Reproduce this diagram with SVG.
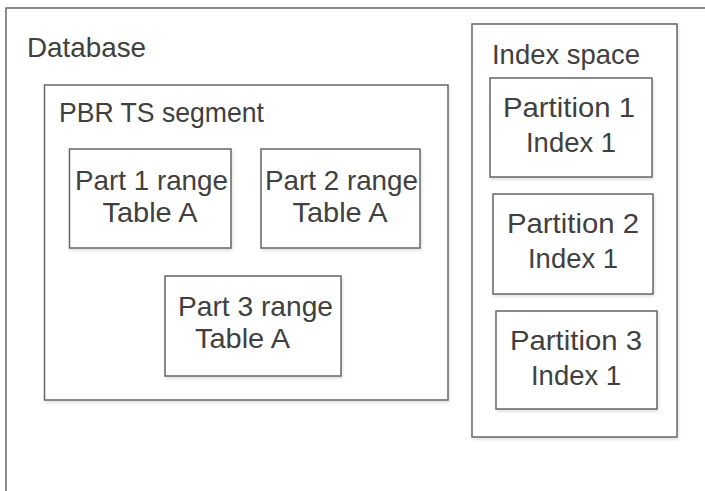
<svg xmlns="http://www.w3.org/2000/svg" width="705" height="491" viewBox="0 0 705 491">
<defs>
<filter id="sh" x="-5%" y="-5%" width="115%" height="115%">
<feDropShadow dx="1" dy="2" stdDeviation="1.5" flood-color="#000" flood-opacity="0.12"/>
</filter>
</defs>
<style>
.box{fill:#fff;stroke:#666;stroke-width:1.5;filter:url(#sh)}
.t{font-family:"Liberation Sans",Arial,sans-serif;font-size:28px;fill:#404040}
.c{text-anchor:middle}
</style>
<rect width="705" height="491" fill="#fff"/>
<g id="database">
<rect class="box" x="6" y="8" width="720" height="500"/>
<text class="t" x="27" y="57" textLength="119" lengthAdjust="spacingAndGlyphs">Database</text>
</g>
<g id="pbr-ts-segment">
<rect class="box" x="44.5" y="85" width="403.5" height="315"/>
<text class="t" x="59" y="122" textLength="205" lengthAdjust="spacingAndGlyphs">PBR TS segment</text>
</g>
<g id="part1">
<rect class="box" x="69.5" y="149" width="161.5" height="99"/>
<text class="t c" x="151.5" y="190" textLength="153" lengthAdjust="spacingAndGlyphs">Part 1 range</text>
<text class="t c" x="150" y="222" textLength="95" lengthAdjust="spacingAndGlyphs">Table A</text>
</g>
<g id="part2">
<rect class="box" x="261" y="149" width="159" height="99"/>
<text class="t c" x="341.5" y="190" textLength="153" lengthAdjust="spacingAndGlyphs">Part 2 range</text>
<text class="t c" x="340" y="222" textLength="95" lengthAdjust="spacingAndGlyphs">Table A</text>
</g>
<g id="part3">
<rect class="box" x="165" y="276" width="176" height="100"/>
<text class="t c" x="255.5" y="316" textLength="155" lengthAdjust="spacingAndGlyphs">Part 3 range</text>
<text class="t c" x="242.5" y="348" textLength="95" lengthAdjust="spacingAndGlyphs">Table A</text>
</g>
<g id="index-space">
<rect class="box" x="472" y="24" width="205" height="413"/>
<text class="t" x="492" y="64" textLength="148" lengthAdjust="spacingAndGlyphs">Index space</text>
</g>
<g id="partition1">
<rect class="box" x="490" y="78" width="162" height="99"/>
<text class="t c" x="569" y="117" textLength="132" lengthAdjust="spacingAndGlyphs">Partition 1</text>
<text class="t c" x="571" y="152" textLength="90" lengthAdjust="spacingAndGlyphs">Index 1</text>
</g>
<g id="partition2">
<rect class="box" x="493" y="194" width="160" height="100"/>
<text class="t c" x="573" y="233" textLength="132" lengthAdjust="spacingAndGlyphs">Partition 2</text>
<text class="t c" x="573" y="268" textLength="90" lengthAdjust="spacingAndGlyphs">Index 1</text>
</g>
<g id="partition3">
<rect class="box" x="496" y="311" width="161" height="98"/>
<text class="t c" x="576" y="350" textLength="132" lengthAdjust="spacingAndGlyphs">Partition 3</text>
<text class="t c" x="576" y="385" textLength="90" lengthAdjust="spacingAndGlyphs">Index 1</text>
</g>
<g id="connectors"/>
</svg>
